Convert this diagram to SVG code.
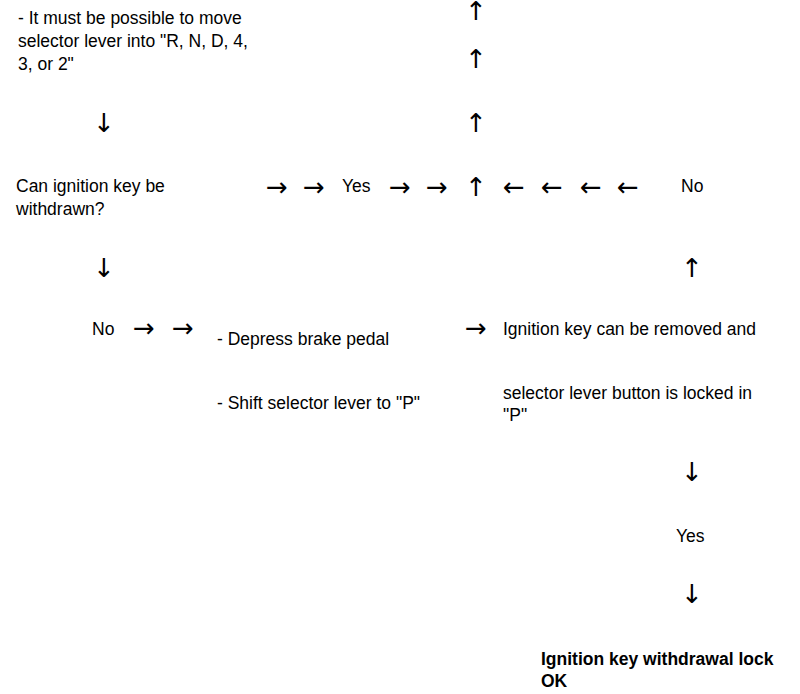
<svg xmlns="http://www.w3.org/2000/svg" width="800" height="694" viewBox="0 0 800 694">
<style>
text{font-family:"Liberation Sans",Arial,sans-serif;font-size:17.5px;fill:#000}
.b{font-weight:bold}
.a{font-family:"DejaVu Sans","Liberation Sans",sans-serif;font-size:26px;text-anchor:middle}
</style>
<rect width="800" height="694" fill="#fff"/>
<g id="node-must-move">
<text x="18" y="24">- It must be possible to move</text>
<text x="18" y="47">selector lever into "R, N, D, 4,</text>
<text x="18" y="70">3, or 2"</text>
</g>
<g id="node-can-withdraw">
<text x="16" y="192">Can ignition key be</text>
<text x="16" y="215">withdrawn?</text>
</g>
<g id="node-yes1"><text x="342" y="192">Yes</text></g>
<g id="node-no1"><text x="681" y="192">No</text></g>
<g id="node-no2"><text x="92" y="335">No</text></g>
<g id="node-depress">
<text x="217" y="345">- Depress brake pedal</text>
<text x="217" y="409">- Shift selector lever to "P"</text>
</g>
<g id="node-removed">
<text x="503" y="335">Ignition key can be removed and</text>
<text x="503" y="399">selector lever button is locked in</text>
<text x="503" y="421">"P"</text>
</g>
<g id="node-yes2"><text x="676" y="542">Yes</text></g>
<g id="node-ok">
<text class="b" x="541" y="665">Ignition key withdrawal lock</text>
<text class="b" x="541" y="687">OK</text>
</g>
<g id="connectors">
<text class="a" x="476" y="20">↑</text>
<text class="a" x="476" y="68">↑</text>
<text class="a" x="476" y="132">↑</text>
<text class="a" x="476" y="196">↑</text>
<text class="a" x="104" y="132">↓</text>
<text class="a" x="104" y="277">↓</text>
<text class="a" x="277" y="196">→</text>
<text class="a" x="314" y="196">→</text>
<text class="a" x="400" y="196">→</text>
<text class="a" x="437" y="196">→</text>
<text class="a" x="514" y="196">←</text>
<text class="a" x="552" y="196">←</text>
<text class="a" x="591" y="196">←</text>
<text class="a" x="628" y="196">←</text>
<text class="a" x="692" y="277">↑</text>
<text class="a" x="144" y="337">→</text>
<text class="a" x="183" y="337">→</text>
<text class="a" x="476" y="337">→</text>
<text class="a" x="692" y="481">↓</text>
<text class="a" x="692" y="603">↓</text>
</g>
</svg>
